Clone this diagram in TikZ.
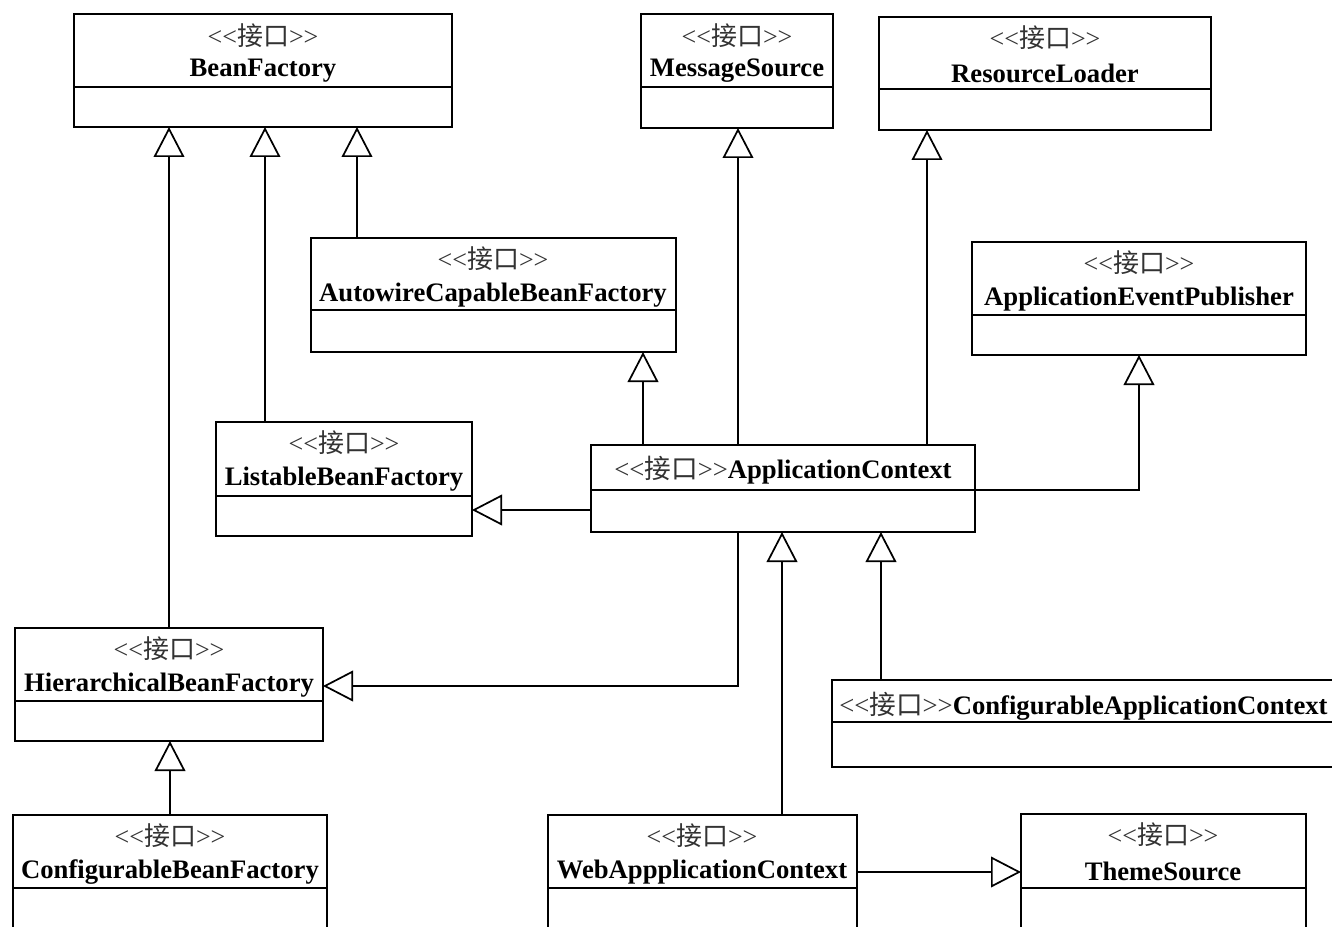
\documentclass[tikz,border=0pt]{standalone}
\usepackage{fontspec}
\setmainfont{Liberation Serif}
\newfontfamily\cjk{Noto Sans CJK SC}
\usetikzlibrary{arrows.meta}
\newcommand\ster{<\kern0pt<{\cjk 接口}>\kern0pt>}
\newcommand\umlbox[6]{%
  \node[cls, minimum width={(#4-#2)*0.75pt}, minimum height={(#5-#3)*0.75pt}] (#1) at (#2,#3) {};
  \draw[divline] (#2,#6) -- (#4,#6);}
\tikzset{
  cls/.style={draw, line width=1.4pt, inner sep=0pt, outer sep=0pt, anchor=north west},
  divline/.style={line width=1.4pt},
  stertext/.style={inner sep=0pt, text=black!80, font=\fontsize{19.5}{22}\selectfont},
  nametext/.style={inner sep=0pt, font=\fontsize{20}{22}\selectfont\bfseries},
  inh/.style={line width=1pt, -{Triangle[open, length=22.5pt, width=23pt, line width=1.3pt]}}
}
\begin{document}
\begin{tikzpicture}[x=0.75pt, y=-0.75pt]
\useasboundingbox (0,0) rectangle (1332,927);
\fill[white] (0,0) rectangle (1332,927);
% boxes
\umlbox{bf}{74}{14}{452}{127}{87}
\node[stertext] (bf-s) at (263,36) {\ster};
\node[nametext] (bf-n) at (263,71) {BeanFactory};

\umlbox{msg}{641}{14}{833}{128}{87}
\node[stertext] (msg-s) at (737,36) {\ster};
\node[nametext] (msg-n) at (737,71) {MessageSource};

\umlbox{res}{879}{17}{1211}{130}{89}
\node[stertext] (res-s) at (1045,38) {\ster};
\node[nametext] (res-n) at (1045,73) {ResourceLoader};

\umlbox{autow}{311}{238}{676}{352}{310}
\node[stertext] (autow-s) at (493,259) {\ster};
\node[nametext] (autow-n) at (493,295) {AutowireCapableBeanFactory};

\umlbox{pub}{972}{242}{1306}{355}{315}
\node[stertext] (pub-s) at (1139,263) {\ster};
\node[nametext] (pub-n) at (1139,299) {ApplicationEventPublisher};

\umlbox{list}{216}{422}{472}{536}{496}
\node[stertext] (list-s) at (344,443) {\ster};
\node[nametext] (list-n) at (344,479) {ListableBeanFactory};

\umlbox{appctx}{591}{445}{975}{532}{490}
\node[nametext] (appctx-n) at (783,470) {{\mdseries\color{black!80}\ster}ApplicationContext};

\umlbox{hier}{15}{628}{323}{741}{701}
\node[stertext] (hier-s) at (169,649) {\ster};
\node[nametext] (hier-n) at (169,685) {HierarchicalBeanFactory};

\umlbox{cac}{832}{680}{1345}{767}{722}
\node[nametext, anchor=west] (cac-n) at (839,706) {{\mdseries\color{black!80}\ster}ConfigurableApplicationContext};

\umlbox{cbf}{13}{815}{327}{950}{888}
\node[stertext] (cbf-s) at (170,836) {\ster};
\node[nametext] (cbf-n) at (170,872) {ConfigurableBeanFactory};

\umlbox{web}{548}{815}{857}{950}{888}
\node[stertext] (web-s) at (702,836) {\ster};
\node[nametext] (web-n) at (702,872) {WebAppplicationContext};

\umlbox{theme}{1021}{814}{1306}{950}{888}
\node[stertext] (theme-s) at (1163,835) {\ster};
\node[nametext] (theme-n) at (1163,871) {ThemeSource};

% connectors
\draw[inh] (hier.north) -- (hier.north |- bf.south);
\draw[inh] (list.north -| 265,0) -- (bf.south -| 265,0);
\draw[inh] (autow.north -| 357,0) -- (bf.south -| 357,0);
\draw[inh] (appctx.north -| 643,0) -- (autow.south -| 643,0);
\draw[inh] (appctx.north -| 738,0) -- (msg.south -| 738,0);
\draw[inh] (appctx.north -| 927,0) -- (res.south -| 927,0);
\draw[inh] (appctx.east |- 0,490) -| (pub.south);
\draw[inh] (appctx.west |- 0,510) -- (list.east |- 0,510);
\draw[inh] (appctx.south -| 738,0) |- (hier.east |- 0,686);
\draw[inh] (cbf.north) -- (cbf.north |- hier.south);
\draw[inh] (web.north -| 782,0) -- (appctx.south -| 782,0);
\draw[inh] (cac.north -| 881,0) -- (appctx.south -| 881,0);
\draw[inh] (web.east |- 0,872) -- (theme.west |- 0,872);
\end{tikzpicture}
\end{document}
